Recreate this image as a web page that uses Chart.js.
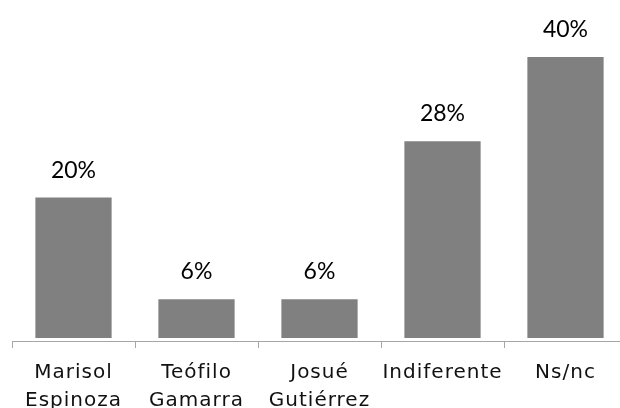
<!DOCTYPE html>
<html>
<head>
<meta charset="utf-8">
<script src="https://cdn.jsdelivr.net/npm/chart.js@4/dist/chart.umd.min.js"></script>
<style>
  html, body { margin: 0; padding: 0; background: #fff; overflow: hidden; width: 620px; height: 408px; }
  #wrap { width: 620px; height: 408px; overflow: hidden; position: relative; }
  canvas { display: block; }
</style>
</head>
<body>
<div id="wrap"><canvas id="c" width="640" height="408"></canvas></div>
<script>
const categories = [["Marisol", "Espinoza"], ["Teófilo", "Gamarra"], ["Josué", "Gutiérrez"], "Indiferente", "Ns/nc"];
const values = [20, 5.5, 5.5, 28, 40];
const valueLabels = ["20%", "6%", "6%", "28%", "40%"];

const spacingPlugin = {
  id: 'tickSpacing',
  beforeDraw(chart) { chart.ctx.letterSpacing = '1px'; }
};

const valueLabelPlugin = {
  id: 'valueLabels',
  afterDatasetsDraw(chart) {
    const ctx = chart.ctx;
    const meta = chart.getDatasetMeta(0);
    ctx.save();
    ctx.letterSpacing = '0px';
    ctx.font = '23px Lato';
    ctx.fillStyle = '#000';
    ctx.textAlign = 'center';
    ctx.textBaseline = 'alphabetic';
    meta.data.forEach((bar, i) => {
      ctx.fillText(valueLabels[i], bar.x, bar.y - 20);
    });
    ctx.restore();
  }
};

new Chart(document.getElementById('c'), {
  type: 'bar',
  data: {
    labels: categories,
    datasets: [{
      data: values,
      backgroundColor: '#808080',
      borderWidth: 0,
      barPercentage: 0.62,
      categoryPercentage: 1
    }]
  },
  options: {
    responsive: false,
    animation: false,
    events: [],
    layout: { padding: { top: 29, left: 12, right: 13, bottom: 0 } },
    plugins: { legend: { display: false }, tooltip: { enabled: false } },
    scales: {
      x: {
        offset: true,
        grid: { display: true, offset: true, drawOnChartArea: false, drawTicks: true, tickLength: 7, color: '#a6a6a6', lineWidth: 1 },
        border: { display: true, color: '#a6a6a6', width: 1 },
        ticks: { color: '#111', padding: 11, maxRotation: 0, autoSkip: false, font: { family: 'DejaVu Sans', size: 20, lineHeight: 1.4 } },
        afterFit(scale) { scale.height = 67; }
      },
      y: {
        display: false,
        min: -0.43,
        max: 44
      }
    }
  },
  plugins: [spacingPlugin, valueLabelPlugin]
});
</script>
</body>
</html>
